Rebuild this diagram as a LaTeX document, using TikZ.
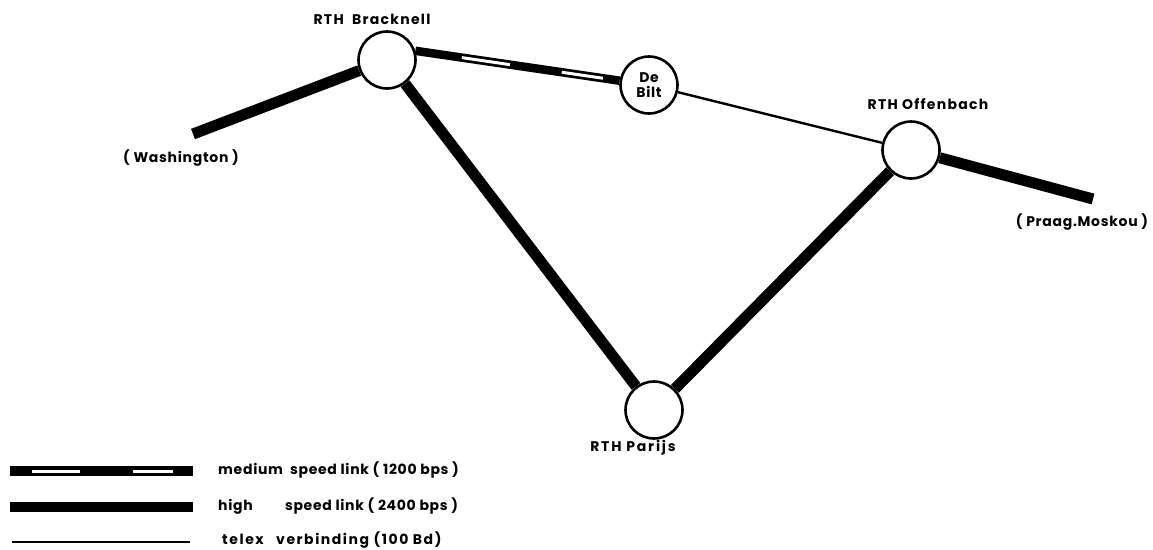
\documentclass[tikz,border=0pt]{standalone}
\usepackage{fontspec}
\setmainfont{Poppins}[LetterSpace=5]
\begin{document}
\begin{tikzpicture}[x=1pt,y=-1pt,
  station/.style={circle,draw,line width=2.6pt,fill=white,minimum size=57pt,inner sep=0pt},
  lbl/.style={font=\fontsize{14}{15}\selectfont\bfseries,inner sep=0pt,align=center},
  rth/.style={lbl,font=\fontsize{14}{15}\selectfont\bfseries\addfontfeatures{LetterSpace=#1}},
  highlink/.style={line width=11pt},
  medlink/.style={line width=8.5pt},
  telexlink/.style={line width=2.4pt},
  medgap/.style={white,line width=3pt}]
\useasboundingbox[fill=white] (0,0) rectangle (1153,549);

% stations
\node[station] (brack) at (387,60) {};
\node[station,lbl] (debilt) at (649,85) {De\\Bilt};
\node[station] (offen) at (911,150) {};
\node[station] (parijs) at (654,410) {};
\coordinate (wash) at (193,134);
\coordinate (praag) at (1093,199);

% links
\draw[highlink] (wash) -- (brack);
\draw[highlink] (brack) -- (parijs);
\draw[highlink] (parijs) -- (offen);
\draw[highlink] (offen) -- (praag);
\draw[telexlink] (debilt) -- (offen);
\draw[medlink] (brack.18) -- (debilt);
\draw[medgap,dash pattern=on 0pt off 47pt on 48.6pt off 52.4pt on 41.6pt off 60pt] (brack.18) -- (debilt);

% labels
\node[rth=9] (lbrack) at (372,19.5) {RTH\hspace{0.6em}Bracknell};
\node[rth=9] (loffen) at (928,104) {RTH Offenbach};
\node[rth=13] (lparijs) at (633,448) {RTH Parijs};
\node[lbl] (lwash) at (181,158) {( Washington )};
\node[lbl] (lpraag) at (1082,222) {( Praag.Moskou )};

% legend
\coordinate (m1) at (10,471); \coordinate (m2) at (193,471);
\coordinate (h1) at (10,507); \coordinate (h2) at (193,507);
\coordinate (t1) at (12,542); \coordinate (t2) at (190,542);
\draw[line width=9.5pt] (m1) -- (m2);
\draw[medgap,dash pattern=on 0pt off 22pt on 48pt off 53pt on 40pt off 40pt] (m1) -- (m2);
\draw[line width=10pt] (h1) -- (h2);
\draw[telexlink,line width=2pt] (t1) -- (t2);
\node[lbl,anchor=west] (lmed) at (218,470) {medium\hspace{0.5em}speed link ( 1200 bps )};
\node[lbl,anchor=west] (lhigh) at (218,506) {high\hspace{2.3em}speed link ( 2400 bps )};
\node[rth=11,anchor=west] (ltelex) at (222,540) {telex\hspace{0.9em}verbinding (100 Bd)};
\end{tikzpicture}
\end{document}
